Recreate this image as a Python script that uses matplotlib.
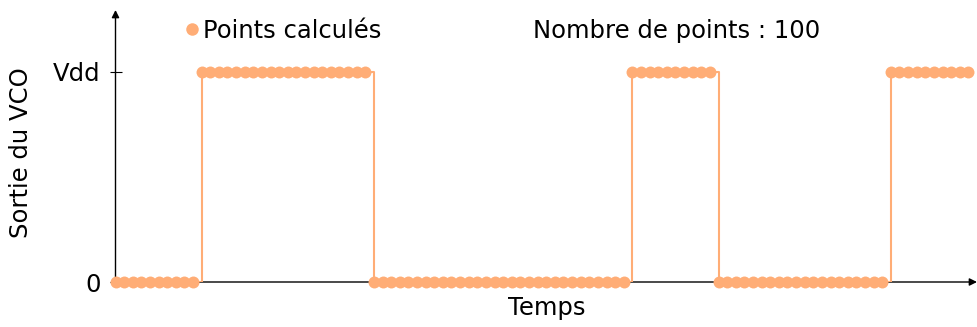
import matplotlib
matplotlib.use("Agg")
import matplotlib.pyplot as plt
from matplotlib.lines import Line2D

# VCO output, one value per computed point (0 = low, 1 = Vdd)
vco_out = [0, 0, 0, 0, 0, 0, 0, 0, 0, 0,
           1, 1, 1, 1, 1, 1, 1, 1, 1, 1,
           1, 1, 1, 1, 1, 1, 1, 1, 1, 1,
           0, 0, 0, 0, 0, 0, 0, 0, 0, 0,
           0, 0, 0, 0, 0, 0, 0, 0, 0, 0,
           0, 0, 0, 0, 0, 0, 0, 0, 0, 0,
           1, 1, 1, 1, 1, 1, 1, 1, 1, 1,
           0, 0, 0, 0, 0, 0, 0, 0, 0, 0,
           0, 0, 0, 0, 0, 0, 0, 0, 0, 0,
           1, 1, 1, 1, 1, 1, 1, 1, 1, 1]
t = list(range(len(vco_out)))
ytick_vals = [0, 1]
ytick_labels = ["0", "Vdd"]

ORANGE = "#ffad76"
FS = 17.5

plt.rcParams["font.family"] = ["DejaVu Sans"]
fig = plt.figure(figsize=(9.77, 3.27), dpi=100)
ax = fig.add_axes([115.5 / 977, 45 / 327, 1 - 115.5 / 977, 272 / 327])

ax.plot(t, vco_out, drawstyle="steps-post", color=ORANGE, lw=1.5, zorder=2)
ax.plot(t, vco_out, "o", color=ORANGE, ms=8.6, mew=0, zorder=3, clip_on=False)

ax.set_xlim(0, 100)
ax.set_ylim(0, 1.295)
for s in ("top", "right", "left", "bottom"):
    ax.spines[s].set_visible(False)
# axes drawn as arrows
arr = dict(arrowstyle="-|>", color="black", lw=1.0, mutation_scale=11,
           shrinkA=0, shrinkB=0)
ax.annotate("", xy=(1, 0), xytext=(0, 0), xycoords="axes fraction",
            arrowprops=arr, zorder=1)
ax.annotate("", xy=(0, 1), xytext=(0, 0), xycoords="axes fraction",
            arrowprops=arr, zorder=1)

ax.set_xticks([])
ax.set_yticks(ytick_vals)
ax.set_yticklabels(ytick_labels, fontsize=FS)
ax.tick_params(axis="y", direction="inout", length=9, width=0.8, pad=6)

ax.set_xlabel("Temps", fontsize=FS)
ax.xaxis.set_label_coords(0.5, -0.052)
ax.set_ylabel("Sortie du VCO", fontsize=FS)
ax.yaxis.set_label_coords(-0.096, 0.474)

h = Line2D([], [], marker="o", ls="", color=ORANGE, ms=9, mew=0)
fig.legend([h], ["Points calculés"], loc="center left",
           bbox_to_anchor=(186 / 977, 1 - 31 / 327), frameon=False,
           fontsize=FS, handlelength=0.5, handletextpad=0.2,
           borderpad=0, borderaxespad=0)
fig.text(533 / 977, 1 - 31 / 327, "Nombre de points : 100", fontsize=FS,
         va="center", ha="left")

fig.savefig("out.png", dpi=100)
